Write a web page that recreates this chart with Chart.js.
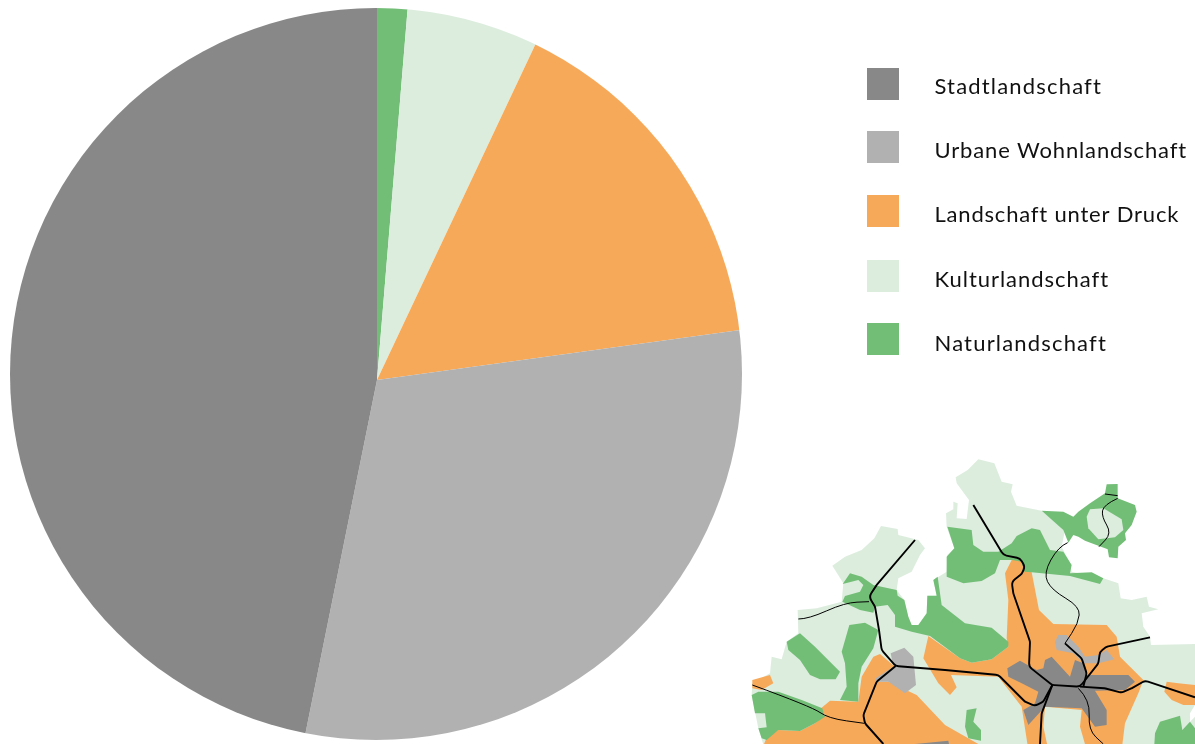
<!DOCTYPE html>
<html><head><meta charset="utf-8">
<style>html,body{margin:0;padding:0;background:#fff}canvas{display:block}</style>
<script src="https://cdn.jsdelivr.net/npm/chart.js@4"></script>
</head><body><canvas id="c" width="1195" height="744"></canvas>
<script>
// Pie data, in drawing order (clockwise from 12 o'clock)
const categories = ["Naturlandschaft","Kulturlandschaft","Landschaft unter Druck","Urbane Wohnlandschaft","Stadtlandschaft"];
const shares = [1.31,5.71,15.8,30.36,46.82];
const colours = ["#73be77","#dcedde","#f7a95a","#b1b1b1","#888888"];
const legendOrder = [4,3,2,1,0];
const legendTop = [68,131,195,260,323];
const legendMiddle = [86.5,150.5,214.5,279.5,343.5];
const legendTracking = [1.18,0.85,0.8,0.97,1.18];

// Decorative inset map (not data): traced outlines, in inset-local units
const mapKultur = [[[632,82],[668,60],[700,28],[748,40],[770,95],[803,103],[798,125],[815,167],[890,182],[960,240],[950,290],[975,340],[980,365],[1075,385],[1120,400],[1127,445],[1160,450],[1205,440],[1212,470],[1240,478],[1190,490],[1195,530],[1215,560],[1218,585],[1350,582],[1350,765],[1335,790],[1335,815],[1350,800],[1350,900],[60,900],[40,835],[20,735],[22,700],[75,670],[80,620],[110,628],[125,575],[160,550],[158,480],[215,475],[290,455],[295,400],[262,347],[300,320],[350,300],[388,265],[408,228],[458,237],[460,255],[520,270],[540,295],[525,315],[500,365],[460,385],[455,420],[478,450],[490,500],[500,525],[520,525],[545,490],[547,437],[575,437],[565,390],[605,365],[607,315],[628,295],[605,230],[603,190],[625,178],[625,155],[638,160],[635,205],[665,207],[672,150],[635,100]]];
const mapNatur = [
 [[890,182],[955,185],[985,200],[1000,185],[1035,160],[1080,130],[1085,103],[1118,102],[1118,145],[1170,165],[1175,185],[1160,225],[1140,250],[1143,270],[1120,290],[1118,325],[1092,322],[1088,298],[1062,288],[1020,272],[1000,260],[985,255],[970,278],[955,240]],
 [[607,230],[680,240],[685,285],[715,305],[760,305],[800,280],[815,258],[860,235],[885,240],[915,300],[955,305],[980,345],[975,370],[1040,367],[1075,385],[1065,402],[975,378],[860,367],[838,365],[830,335],[800,330],[765,330],[750,370],[710,393],[655,400],[605,380],[605,320],[628,295]],
 [[565,390],[578,380],[590,465],[660,520],[740,533],[790,575],[790,590],[740,628],[680,638],[645,625],[555,558],[500,545],[450,530],[450,495],[428,465],[390,470],[385,488],[345,480],[292,455],[300,438],[345,425],[355,405],[340,390],[293,402],[315,370],[350,380],[385,405],[455,420],[458,437],[478,450],[490,500],[500,525],[520,525],[545,490],[547,437],[575,437]],
 [[125,575],[165,550],[210,590],[285,665],[272,688],[225,688],[195,675],[165,630],[130,600]],
 [[313,525],[360,518],[400,540],[385,595],[350,650],[340,700],[340,755],[285,750],[305,710],[300,640],[290,605]],
 [[20,735],[40,725],[100,725],[170,750],[232,775],[240,800],[210,820],[165,843],[100,840],[65,870],[50,865],[40,835],[65,832],[60,790],[30,790]],
 [[665,780],[695,775],[685,815],[708,840],[708,872],[670,865],[660,830]],
 [[1230,850],[1245,815],[1305,797],[1312,840],[1335,815],[1350,835],[1350,900],[1227,900]]
];
const mapKulturHole = [[[1035,178],[1075,175],[1130,208],[1135,240],[1110,262],[1060,268],[1030,235],[1025,200]]];
const mapDruck = [
 [[800,330],[830,330],[860,367],[882,480],[925,522],[1085,525],[1115,560],[1125,620],[1195,690],[1180,730],[1140,820],[1130,900],[1025,900],[1005,830],[1010,780],[900,770],[895,830],[910,900],[850,900],[830,770],[760,680],[618,675],[635,712],[615,735],[580,700],[535,625],[550,558],[645,625],[680,638],[740,628],[790,590],[785,565],[790,450],[780,370]],
 [[405,612],[450,650],[400,695],[430,695],[515,735],[600,825],[700,882],[715,900],[50,900],[70,850],[100,840],[165,843],[210,820],[240,795],[228,775],[255,752],[340,755],[350,680],[385,620]],
 [[22,690],[75,675],[85,700],[50,720],[22,715]],
 [[1265,695],[1300,700],[1350,705],[1350,765],[1315,765],[1280,750],[1258,725]]
];
const mapStadt = [
 [[787,655],[825,632],[875,660],[895,655],[900,630],[920,620],[975,680],[990,630],[1015,640],[1025,675],[1150,675],[1170,695],[1140,720],[1050,722],[1085,780],[1085,825],[1050,830],[1010,775],[900,770],[850,825],[835,780],[870,760],[880,725],[830,700],[790,680]],
 [[510,882],[610,872],[615,900],[510,900]]
];
const mapUrban = [
 [[930,575],[940,555],[965,555],[1000,590],[1020,620],[1060,615],[1085,600],[1108,628],[1060,640],[1030,640],[1015,640],[985,610],[935,600]],
 [[437,610],[478,593],[505,620],[513,705],[480,730],[430,695],[395,695],[392,685],[445,650]]
];
const mapThick = [
 [[510,270],[395,405],[372,440],[390,470],[402,540],[410,600],[452,648],[600,660],[760,675],[840,755],[870,768],[895,755],[922,705]],
 [[685,165],[775,315],[825,325],[840,350],[830,372],[800,395],[805,430],[855,575],[852,650],[922,705],[1005,710],[1060,640],[1065,605],[1085,590],[1215,562]],
 [[452,648],[395,695],[355,795],[360,820],[415,882]],
 [[922,705],[890,790],[885,882]],
 [[1005,710],[1080,715],[1130,728],[1160,715],[1200,692],[1350,742]],
 [[960,580],[1010,625],[1025,670],[1015,710]]
];
const mapThin = [
 [[160,507],[190,507],[300,458],[372,455]],
 [[22,705],[200,770],[250,805],[358,820]],
 [[968,278],[940,290],[895,370],[920,420],[1005,470],[1000,520],[960,580]],
 [[1080,132],[1118,137]],
 [[1118,145],[1075,165],[1070,200],[1100,250],[1062,290]],
 [[1000,715],[1035,750],[1030,840],[1075,882]]
];

const mx = x => 745 + x / 3, my = y => 450 + y / 3;
function poly(ctx, pts, fill){
  ctx.beginPath();
  pts.forEach((p,i)=> i ? ctx.lineTo(mx(p[0]),my(p[1])) : ctx.moveTo(mx(p[0]),my(p[1])));
  ctx.closePath(); ctx.fillStyle = fill; ctx.fill();
}
function curve(ctx, pts, w){
  ctx.beginPath(); ctx.moveTo(mx(pts[0][0]),my(pts[0][1]));
  for(let i=1;i<pts.length-1;i++){
    const a=pts[i], b=pts[i+1];
    ctx.quadraticCurveTo(mx(a[0]),my(a[1]),mx((a[0]+b[0])/2),my((a[1]+b[1])/2));
  }
  const l=pts[pts.length-1]; ctx.lineTo(mx(l[0]),my(l[1]));
  ctx.lineWidth=w; ctx.strokeStyle="#000"; ctx.stroke();
}
function rounded(ctx, pts, w, r){
  ctx.beginPath(); ctx.moveTo(mx(pts[0][0]),my(pts[0][1]));
  for(let i=1;i<pts.length-1;i++){
    const a=pts[i], b=pts[i+1];
    ctx.arcTo(mx(a[0]),my(a[1]),mx(b[0]),my(b[1]),r);
  }
  const l=pts[pts.length-1]; ctx.lineTo(mx(l[0]),my(l[1]));
  ctx.lineWidth=w; ctx.strokeStyle="#000"; ctx.lineJoin="round"; ctx.stroke();
}
const inset = {
  id:"inset",
  afterDraw(chart){
    const ctx=chart.ctx; ctx.save();
    const [n,k,d,u,s]=colours;
    mapKultur.forEach(p=>poly(ctx,p,k));
    mapDruck.forEach(p=>poly(ctx,p,d));
    mapNatur.forEach(p=>poly(ctx,p,n));
    mapKulturHole.forEach(p=>poly(ctx,p,k));
    mapStadt.forEach(p=>poly(ctx,p,s));
    mapUrban.forEach(p=>poly(ctx,p,u));
    mapThin.forEach(p=>curve(ctx,p,1));
    mapThick.forEach(p=>rounded(ctx,p,1.9,7));
    ctx.restore();
  }
};
// The reference's slices meet slightly below the middle of its round outline:
// the arcs are drawn around that meeting point, larger, and trimmed to the outline.
const outlineClip = {
  id:"outlineClip",
  beforeDatasetsDraw(chart){
    const ctx=chart.ctx; ctx.save();
    ctx.beginPath(); ctx.arc(376,374,366,0,Math.PI*2); ctx.clip();
  },
  afterDatasetsDraw(chart){ chart.ctx.restore(); }
};
const legendRows = {
  id:"legendRows",
  afterDraw(chart){
    const ctx=chart.ctx; ctx.save();
    ctx.font='22px Lato'; ctx.textBaseline="middle"; ctx.textAlign="left";
    legendOrder.forEach((idx,i)=>{
      ctx.fillStyle=chart.data.datasets[0].backgroundColor[idx];
      ctx.fillRect(867,legendTop[i],32,32);
      ctx.fillStyle="#111";
      if('letterSpacing' in ctx) ctx.letterSpacing=legendTracking[i]+'px';
      ctx.fillText(chart.data.labels[idx],934.5,legendMiddle[i]);
    });
    ctx.restore();
  }
};
new Chart(document.getElementById("c"),{
  type:"pie",
  data:{labels:categories,datasets:[{data:shares,backgroundColor:colours,borderWidth:0,radius:374}]},
  options:{
    responsive:false,animation:false,radius:374,
    layout:{padding:{left:10,top:16,right:451,bottom:0}},
    plugins:{legend:{display:false},tooltip:{enabled:false}}
  },
  plugins:[outlineClip,inset,legendRows]
});
</script></body></html>
